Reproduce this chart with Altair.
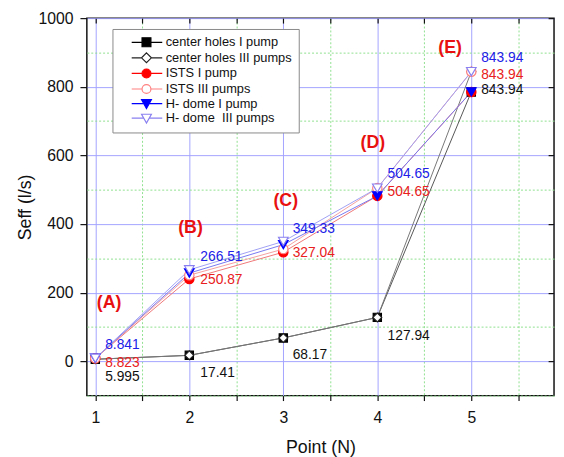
import altair as alt
import pandas as pd

# ---------------- data ----------------
points = [1, 2, 3, 4, 5]
series_names = ["center holes I pump", "center holes III pumps", "ISTS I pump",
                "ISTS III pumps", "H- dome I pump", "H- dome \u00a0III pumps"]
center_I = [5.995, 17.41, 68.17, 127.94, 785]
center_III = [5.995, 17.41, 68.17, 127.94, 843.94]
ists_I = [8.823, 240, 318, 482, 785]
ists_III = [8.823, 250.87, 327.04, 504.65, 843.94]
hdome_I = [8.841, 257, 340, 482, 785]
hdome_III = [8.841, 266.51, 349.33, 504.65, 843.94]
series_values = [center_I, center_III, ists_I, ists_III, hdome_I, hdome_III]

blue_labels = ["8.841", "266.51", "349.33", "504.65", "843.94"]
red_labels = ["8.823", "250.87", "327.04", "504.65", "843.94"]
black_labels = ["5.995", "17.41", "68.17", "127.94", "843.94"]
label_x = [1.105, 2.117, 3.10, 4.109, 5.105]
blue_label_y = [47, 305, 385, 545, 884]
red_label_y = [-4, 238, 315, 492, 833]
black_label_y = [-47, -34.5, 18, 74, 790]

letters = ["(A)", "(B)", "(C)", "(D)", "(E)"]
letter_x = [1.147, 2.013, 3.026, 3.952, 4.774]
letter_y = [171, 387, 468, 635, 913]

x_ticks = [1, 1.5, 2, 2.5, 3, 3.5, 4, 4.5, 5, 5.5]
y_ticks = list(range(-100, 1001, 100))
y_right_ticks = list(range(0, 1001, 200))

# ---------------- styles ----------------
line_colors = ["#555555", "#777777", "#f07878", "#f4a0a0", "#7878f0", "#a0a0f4"]
marker_shapes = ["square", "diamond", "circle", "circle", "triangle-down", "triangle-down"]
marker_fill = ["#000000", "#ffffff", "#ff0000", "#ffffff", "#0000ff", "#ffffff"]
marker_stroke = ["#000000", "#222222", "#ff0000", "#ff8080", "#0000ff", "#8a80f0"]
marker_size = [70, 80, 90, 90, 95, 95]
legend_paths = [
    "M1.2,0H3.3M5.1,0H7.4M3.3,-0.9H5.1V0.9H3.3Z",
    "M1.2,0H3.2M5.2,0H7.4M4.2,-1L5.2,0L4.2,1L3.2,0Z",
    "M1.2,0H3.3M5.1,0H7.4M3.3,0A0.9,0.9,0,1,0,5.1,0A0.9,0.9,0,1,0,3.3,0Z",
    "M1.2,0H3.3M5.1,0H7.4M3.3,0A0.9,0.9,0,1,0,5.1,0A0.9,0.9,0,1,0,3.3,0Z",
    "M1.2,0H3.64M4.76,0H7.4M3.2,-0.8H5.2L4.2,1Z",
    "M1.2,0H3.64M4.76,0H7.4M3.2,-0.8H5.2L4.2,1Z",
]

FONT = "Liberation Sans"

rows = []
for name, vals in zip(series_names, series_values):
    for p, v in zip(points, vals):
        rows.append({"x": p, "y": v, "series": name})
df = pd.DataFrame(rows)

xs = alt.Scale(domain=[0.91, 5.88], nice=False, zero=False)
ys = alt.Scale(domain=[-100, 1000], nice=False, zero=False)

major_x = "datum.value % 1 == 0"
major_y = "datum.value % 200 == 0"

x_axis = alt.Axis(
    values=x_ticks, labelExpr=f"{major_x} ? format(datum.value, 'd') : ''", title="Point (N)",
    tickSize=5, tickWidth=1.2, labelPadding=9, titlePadding=14,
    labelFlush=False, labelOverlap=False, domain=False, grid=True,
    gridColor={"condition": {"test": major_x, "value": "#a4a4ff"}, "value": "#8ee08e"},
    gridDash={"condition": {"test": major_x, "value": []}, "value": [2, 2]},
    gridWidth=1,
)
y_axis = alt.Axis(
    values=y_ticks, format="d", labelExpr=f"{major_y} ? datum.label : ''", title="Seff (l/s)",
    tickSize=7, tickWidth=1.2,
    tickColor={"condition": {"test": major_y, "value": "#111111"}, "value": "transparent"},
    labelPadding=7, titlePadding=4, labelFlush=False, labelOverlap=False, domain=False, grid=True,
    gridColor={"condition": {"test": major_y, "value": "#a4a4ff"}, "value": "#8ee08e"},
    gridDash={"condition": {"test": major_y, "value": []}, "value": [2, 2]},
    gridWidth=1,
)
x_axis_top = alt.Axis(orient="top", values=x_ticks, labels=False, title=None, tickSize=5,
                      tickWidth=1.2, offset=-5, grid=False, domain=False)
y_axis_right = alt.Axis(orient="right", values=y_right_ticks, labels=False, title=None, tickSize=6,
                        tickWidth=1.2, offset=-6, grid=False, domain=False)

legend = alt.Legend(
    orient="none", legendX=26, legendY=11, title=None, padding=7,
    labelFont=FONT, labelFontSize=13, labelColor="#111111", labelOffset=34,
    symbolSize=100, symbolStrokeWidth=1.2, symbolOpacity=1,
    strokeColor="#888888", fillColor="white", rowPadding=0.8, labelLimit=300,
)

# hidden layer carrying main axes and the legend
legend_layer = alt.Chart(df).mark_point(opacity=0, size=100).encode(
    x=alt.X("x:Q", scale=xs, axis=x_axis),
    y=alt.Y("y:Q", scale=ys, axis=y_axis),
    color=alt.Color("series:N", scale=alt.Scale(domain=series_names, range=marker_stroke), legend=legend),
    fill=alt.Fill("series:N", scale=alt.Scale(domain=series_names, range=marker_fill), legend=legend),
    shape=alt.Shape("series:N", scale=alt.Scale(domain=series_names, range=legend_paths), legend=legend),
)

# hidden layer carrying the top/right inward ticks
frame_layer = alt.Chart(df).mark_point(opacity=0).encode(
    x=alt.X("x:Q", scale=xs, axis=x_axis_top),
    y=alt.Y("y:Q", scale=ys, axis=y_axis_right),
)

layers = [legend_layer, frame_layer]

for i, (name, vals) in enumerate(zip(series_names, series_values)):
    sdf = pd.DataFrame({"x": points, "y": vals})
    layers.append(alt.Chart(sdf).mark_line(stroke=line_colors[i], strokeWidth=1).encode(
        x=alt.X("x:Q", scale=xs, axis=None),
        y=alt.Y("y:Q", scale=ys, axis=None),
    ))

for i, (name, vals) in enumerate(zip(series_names, series_values)):
    sdf = pd.DataFrame({"x": points, "y": vals})
    layers.append(alt.Chart(sdf).mark_point(
        shape=marker_shapes[i], filled=True, fill=marker_fill[i], stroke=marker_stroke[i],
        strokeWidth=1.2, size=marker_size[i], opacity=1,
    ).encode(
        x=alt.X("x:Q", scale=xs, axis=None),
        y=alt.Y("y:Q", scale=ys, axis=None),
    ))


def text_layer(texts, xv, yv, color, size, weight="normal", align="left"):
    tdf = pd.DataFrame({"x": xv, "y": yv, "t": texts})
    return alt.Chart(tdf).mark_text(
        align=align, baseline="middle", font=FONT, fontSize=size, fontWeight=weight, color=color,
    ).encode(
        x=alt.X("x:Q", scale=xs, axis=None),
        y=alt.Y("y:Q", scale=ys, axis=None),
        text="t:N",
    )


layers.append(text_layer(black_labels, label_x, black_label_y, "#111111", 14))
layers.append(text_layer(red_labels, label_x, red_label_y, "#e82020", 14))
layers.append(text_layer(blue_labels, label_x, blue_label_y, "#2020e8", 14))
layers.append(text_layer(letters, letter_x, letter_y, "#e81010", 18, "bold", "center"))

chart = alt.layer(*layers).resolve_axis(x="independent", y="independent").properties(
    width=474, height=383,
    autosize=alt.AutoSizeParams(type="none"),
    padding={"left": 80, "top": 7, "right": 2, "bottom": 60},
).configure_view(
    stroke="#111111", strokeWidth=1.5,
).configure_axis(
    labelFont=FONT, titleFont=FONT, labelFontSize=16, titleFontSize=18,
    titleFontWeight="normal", labelColor="#111111", titleColor="#111111", tickColor="#111111",
)

chart.save("out.html", embed_options={"renderer": "svg", "actions": False})
